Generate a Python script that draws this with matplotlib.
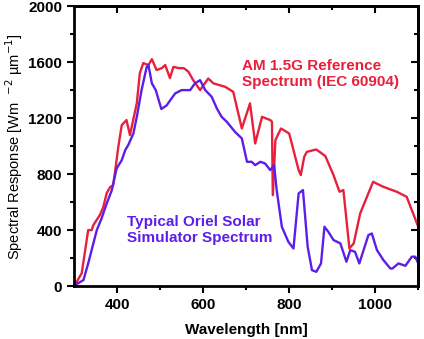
import matplotlib
matplotlib.use('Agg')
import matplotlib.pyplot as plt

plt.rcParams['font.family'] = ['Liberation Sans', 'DejaVu Sans']

# AM 1.5G reference spectrum
am_wl = [302, 318, 333, 341, 345, 360, 368, 376, 384, 391, 395, 403, 411, 422, 430,
         446, 453, 461, 473, 481, 492, 504, 512, 523, 531, 543, 555, 566, 577, 593,
         612, 624, 651, 670, 690, 709, 721, 737, 756, 760, 762, 768, 781, 800, 822,
         827, 835, 841, 863, 884, 903, 917, 926, 940, 950, 965, 995, 1019, 1050, 1073, 1100]
am_val = [7, 93, 400, 400, 436, 507, 564, 664, 707, 721, 807, 995, 1150, 1186, 1079,
          1307, 1521, 1593, 1579, 1621, 1543, 1557, 1579, 1486, 1566, 1557, 1557, 1531, 1471, 1400,
          1483, 1448, 1424, 1388, 1126, 1305, 1019, 1209, 1186, 1174, 650, 1043, 1126, 1090, 829,
          793, 924, 959, 976, 929, 793, 674, 686, 269, 305, 519, 745, 709, 674, 638, 424]

# Oriel solar simulator spectrum
sim_wl = [302, 322, 333, 345, 353, 364, 376, 388, 399, 411, 419, 426, 438, 446, 457,
          469, 473, 481, 490, 503, 515, 535, 550, 570, 581, 593, 605, 620, 632, 643,
          655, 674, 690, 702, 713, 721, 733, 744, 756, 765, 771, 783, 798, 810, 822,
          832, 843, 853, 863, 874, 882, 891, 903, 919, 933, 942, 953, 963, 984, 992,
          1004, 1019, 1035, 1040, 1054, 1070, 1085, 1093, 1100]
sim_val = [7, 43, 162, 305, 400, 483, 590, 686, 840, 900, 971, 1007, 1090, 1209, 1400,
           1566, 1579, 1448, 1400, 1265, 1290, 1376, 1400, 1400, 1448, 1471, 1400, 1352, 1269, 1209,
           1174, 1102, 1055, 888, 888, 864, 888, 876, 829, 864, 686, 424, 317, 269, 662,
           686, 281, 114, 102, 162, 424, 388, 329, 305, 174, 257, 245, 162, 364, 376,
           257, 186, 126, 126, 162, 145, 210, 210, 162]

red = '#e8203c'
blue = '#5c1ee8'

fig = plt.figure(figsize=(4.24, 3.39), dpi=100)
ax = fig.add_axes([0.1745, 0.156, 0.812, 0.826])

ax.plot(am_wl, am_val, color=red, lw=1.7)
ax.plot(sim_wl, sim_val, color=blue, lw=1.7)

ax.set_xlim(300, 1100)
ax.set_ylim(0, 2000)
ax.set_xticks([400, 600, 800, 1000])
ax.set_xticks([500, 700, 900, 1100], minor=True)
ax.set_yticks([0, 400, 800, 1200, 1600, 2000])
ax.set_yticks([200, 600, 1000, 1400, 1800], minor=True)

for s in ax.spines.values():
    s.set_linewidth(2)
ax.tick_params(which='both', direction='out', width=1.5, labelsize=11)
ax.tick_params(which='major', length=5)
ax.tick_params(which='minor', length=3)
for lab in ax.get_xticklabels() + ax.get_yticklabels():
    lab.set_fontweight('bold')

# mirror ticks pointing inwards on top and right
top = ax.secondary_xaxis('top')
top.set_xticks([400, 600, 800, 1000])
top.set_xticks([500, 700, 900], minor=True)
top.tick_params(which='both', direction='in', width=1.5, labeltop=False)
top.tick_params(which='major', length=5)
top.tick_params(which='minor', length=3)
right = ax.secondary_yaxis('right')
right.set_yticks([400, 800, 1200, 1600])
right.set_yticks([200, 600, 1000, 1400, 1800], minor=True)
right.tick_params(which='both', direction='in', width=1.5, labelright=False)
right.tick_params(which='major', length=5)
right.tick_params(which='minor', length=3)
top.spines['top'].set_linewidth(2)
right.spines['right'].set_linewidth(2)

ax.set_xlabel('Wavelength [nm]', fontsize=11, fontweight='bold', labelpad=8)
ax.set_ylabel(r'Spectral Response [Wm  $^{-2}$ µm$^{-1}$]', fontsize=10.5, labelpad=2)

ax.text(690, 1515, 'AM 1.5G Reference\nSpectrum (IEC 60904)', color=red,
        fontsize=11, fontweight='bold', va='center', linespacing=1.2)
ax.text(424, 400, 'Typical Oriel Solar\nSimulator Spectrum', color=blue,
        fontsize=11, fontweight='bold', va='center', linespacing=1.2)

fig.savefig('out.png', dpi=100)
